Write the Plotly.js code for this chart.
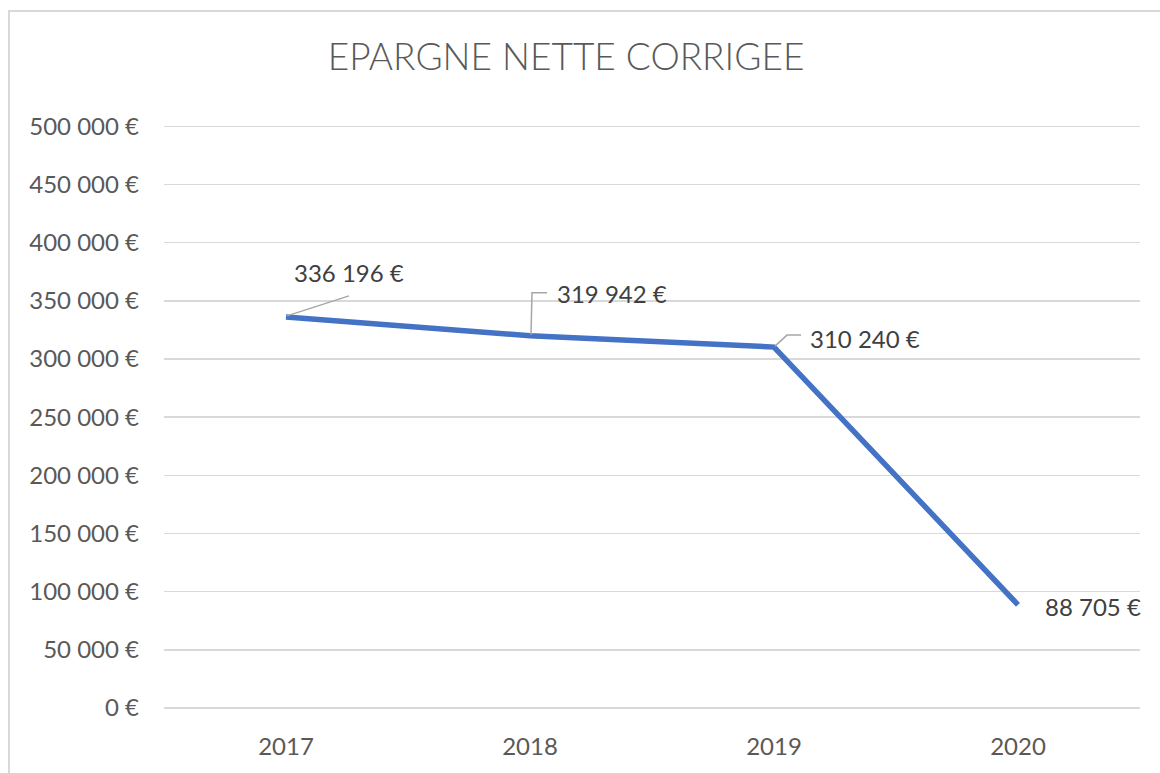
<!DOCTYPE html>
<html>
<head>
<meta charset="utf-8">
<script src="https://cdn.plot.ly/plotly-3.0.1.min.js"></script>
<style>
  html, body { margin: 0; padding: 0; background: #fff; overflow: hidden; }
  #chart { width: 1160px; height: 773px; position: absolute; left: 0; top: 0; }
  #frame { position: absolute; left: 8px; top: 10px; width: 1200px; height: 800px;
           border-left: 2px solid #d9d9d9; border-top: 2px solid #d9d9d9; pointer-events: none; }
</style>
</head>
<body>
<div id="chart"></div>
<div id="frame"></div>
<script>
const years = ['2017', '2018', '2019', '2020'];
const epargne = [336196, 319942, 310240, 88705];
const yTicks = [0, 50000, 100000, 150000, 200000, 250000, 300000, 350000, 400000, 450000, 500000];

function fmt(v) {
  return String(Math.round(v)).replace(/\B(?=(\d{3})+(?!\d))/g, ' ') + ' €';
}

// label placement (pixel offsets from each point) and leader paths
const labelOffsets = [[6, 44], [25, 42], [34, 9], [25, -2]];
const leaderPaths = ['M 1 1 L 63 21', 'M 1 1 L 2 43 L 17 43', 'M 1 1 L 13 12 L 27 12', null];

const trace = {
  x: years, y: epargne, type: 'scatter', mode: 'lines',
  line: { color: '#4472C4', width: 5.5 },
  hoverinfo: 'skip'
};

const FONT = 'Lato, "Open Sans", sans-serif';

const annotations = years.map((yr, i) => ({
  x: i, y: epargne[i], xref: 'x', yref: 'y',
  text: fmt(epargne[i]), showarrow: false,
  xanchor: 'left', yanchor: 'middle',
  xshift: labelOffsets[i][0], yshift: labelOffsets[i][1],
  font: { family: FONT, size: 24, color: '#404040' }
}));

const shapes = [];
years.forEach((yr, i) => {
  if (!leaderPaths[i]) return;
  shapes.push({
    type: 'path', xref: 'x', yref: 'y',
    xsizemode: 'pixel', ysizemode: 'pixel',
    xanchor: i, yanchor: epargne[i],
    path: leaderPaths[i],
    line: { color: '#a6a6a6', width: 1.5 }
  });
});

const layout = {
  width: 1160, height: 773,
  margin: { l: 164, r: 20, t: 124, b: 65 },
  paper_bgcolor: '#ffffff', plot_bgcolor: '#ffffff',
  showlegend: false,
  separators: ', ',
  title: {
    text: 'EPARGNE NETTE CORRIGEE',
    x: 0.488, xref: 'container', xanchor: 'center',
    y: 1 - 57 / 773, yref: 'container', yanchor: 'middle',
    font: { family: FONT, size: 37, color: '#595959', weight: 300 }
  },
  xaxis: {
    type: 'category', range: [-0.5, 3.5],
    showgrid: false, zeroline: false, showline: false, ticks: '',
    ticklabelstandoff: 22,
    tickfont: { family: FONT, size: 24, color: '#595959' },
    fixedrange: true
  },
  yaxis: {
    range: [0, 502000], tickvals: yTicks, ticktext: yTicks.map(fmt),
    showgrid: true, gridcolor: '#d9d9d9', gridwidth: 1.5,
    zeroline: true, zerolinecolor: '#d9d9d9', zerolinewidth: 1.5,
    showline: false, ticks: '',
    ticklabelstandoff: 24,
    tickfont: { family: FONT, size: 24, color: '#595959' },
    fixedrange: true
  },
  annotations: annotations,
  shapes: shapes
};

Plotly.newPlot('chart', [trace], layout, { displayModeBar: false, staticPlot: true });
</script>
</body>
</html>
